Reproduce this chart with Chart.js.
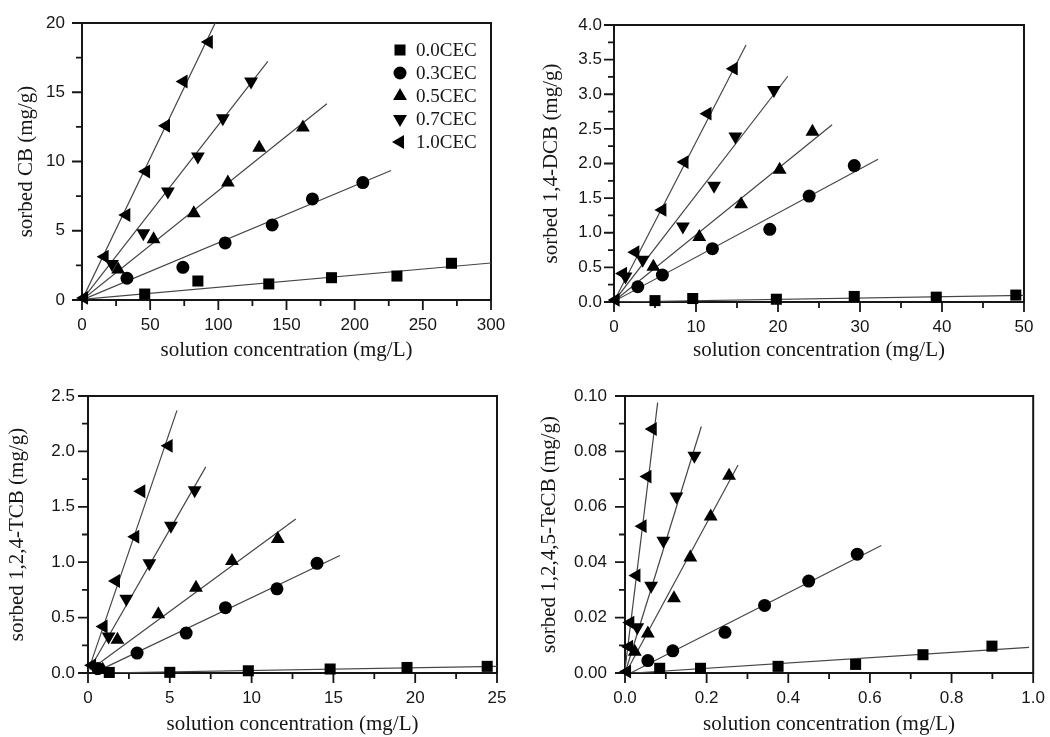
<!DOCTYPE html>
<html>
<head>
<meta charset="utf-8">
<title>Sorbed chlorobenzenes vs. solution concentration</title>
<script src="https://cdn.jsdelivr.net/npm/chart.js@4.4.1/dist/chart.umd.min.js"></script>
<style>
    html, body { margin: 0; padding: 0; background: #fff; }
    #board { position: relative; width: 1050px; height: 737px; overflow: hidden; }
    #board canvas { position: absolute; }
</style>
</head>
<body>
<div id="board">
    <canvas id="cbChart" width="525" height="368" style="left:0;top:0"></canvas>
    <canvas id="dcbChart" width="525" height="368" style="left:525px;top:0"></canvas>
    <canvas id="tcbChart" width="525" height="369" style="left:0;top:368px"></canvas>
    <canvas id="tecbChart" width="525" height="369" style="left:525px;top:368px"></canvas>
</div>
<script>
// surfactant loading of the clay, one series per loading
var seriesLabels = ['0.0CEC', '0.3CEC', '0.5CEC', '0.7CEC', '1.0CEC'];

// CB: [solution mg/L, sorbed mg/g]
var cbPoints = [
    [[46, 0.43], [85, 1.37], [137, 1.16], [183, 1.61], [231, 1.73], [271, 2.65]],
    [[33, 1.57], [74, 2.36], [105, 4.12], [139.5, 5.42], [169, 7.30], [206, 8.48]],
    [[26.5, 2.2], [52.5, 4.39], [82, 6.27], [107, 8.48], [130, 11.0], [162, 12.46]],
    [[22, 2.6], [45, 4.82], [63, 7.83], [85, 10.36], [103.3, 13.13], [124, 15.78]],
    [[1.5, 0.15], [16.6, 3.13], [32.5, 6.14], [47, 9.28], [61.6, 12.58], [74.5, 15.78], [93, 18.63]]
];
var cbFits = [
    [[0, 0.05], [300, 2.67]],
    [[0, 0], [226.7, 9.35]],
    [[0, 0], [179.6, 14.17]],
    [[0, 0], [136.3, 17.23]],
    [[0, 0], [97.7, 20]]
];
var cbXTicks = [0, 50, 100, 150, 200, 250, 300];
var cbYTicks = [0, 5, 10, 15, 20];

// 1,4-DCB
var dcbPoints = [
    [[5.0, 0.02], [9.6, 0.05], [19.8, 0.04], [29.3, 0.08], [39.3, 0.07], [49.0, 0.10]],
    [[2.9, 0.22], [5.9, 0.39], [12.0, 0.77], [19.0, 1.05], [23.8, 1.53], [29.3, 1.97]],
    [[4.8, 0.51], [10.4, 0.94], [15.5, 1.41], [20.2, 1.91], [24.2, 2.46]],
    [[1.4, 0.37], [3.5, 0.61], [8.4, 1.09], [12.2, 1.68], [14.8, 2.39], [19.5, 3.06]],
    [[0.2, 0.03], [1.1, 0.41], [2.6, 0.72], [5.9, 1.33], [8.6, 2.02], [11.4, 2.72], [14.6, 3.37]]
];
var dcbFits = [
    [[0, 0], [50, 0.096]],
    [[0, 0.01], [32.2, 2.06]],
    [[0, 0.01], [26.6, 2.56]],
    [[0, 0.01], [21.2, 3.26]],
    [[0, 0.01], [16.1, 3.71]]
];
var dcbXTicks = [0, 10, 20, 30, 40, 50];
var dcbYTicks = [0, 0.5, 1.0, 1.5, 2.0, 2.5, 3.0, 3.5, 4.0];

// 1,2,4-TCB
var tcbPoints = [
    [[1.3, 0.005], [5.0, 0.006], [9.8, 0.02], [14.8, 0.036], [19.5, 0.05], [24.4, 0.06]],
    [[0.6, 0.04], [3.0, 0.18], [6.0, 0.36], [8.4, 0.59], [11.55, 0.76], [14.0, 0.99]],
    [[0.9, 0.03], [1.8, 0.30], [4.3, 0.53], [6.6, 0.77], [8.8, 1.01], [11.6, 1.21]],
    [[0.5, 0.05], [1.26, 0.33], [2.34, 0.67], [3.75, 0.99], [5.07, 1.33], [6.52, 1.65]],
    [[0.25, 0.07], [0.95, 0.42], [1.71, 0.83], [2.89, 1.23], [3.26, 1.64], [4.93, 2.05]]
];
var tcbFits = [
    [[0.75, 0], [25, 0.06]],
    [[0.55, 0.015], [15.4, 1.06]],
    [[0.14, 0.03], [12.7, 1.39]],
    [[0.14, 0.045], [7.2, 1.86]],
    [[0.04, 0.03], [5.44, 2.37]]
];
var tcbXTicks = [0, 5, 10, 15, 20, 25];
var tcbYTicks = [0, 0.5, 1.0, 1.5, 2.0, 2.5];

// 1,2,4,5-TeCB
var tecbPoints = [
    [[0.085, 0.0017], [0.185, 0.0017], [0.375, 0.0024], [0.565, 0.0031], [0.73, 0.0066], [0.899, 0.0097]],
    [[0.056, 0.0045], [0.117, 0.008], [0.245, 0.0147], [0.342, 0.0244], [0.45, 0.0332], [0.569, 0.0429]],
    [[0.024, 0.0077], [0.056, 0.0143], [0.12, 0.027], [0.16, 0.0417], [0.21, 0.0565], [0.255, 0.0712]],
    [[0.03, 0.0165], [0.064, 0.0315], [0.094, 0.0477], [0.126, 0.0637], [0.17, 0.0784]],
    [[0.005, 0.0005], [0.01, 0.0095], [0.013, 0.0182], [0.028, 0.0352], [0.043, 0.053], [0.055, 0.0709], [0.068, 0.0881]]
];
var tecbFits = [
    [[0.02, 0], [0.99, 0.00925]],
    [[0.016, 0.0002], [0.628, 0.046]],
    [[0.004, 0.0006], [0.277, 0.0751]],
    [[0.004, 0.0018], [0.187, 0.089]],
    [[0, 0.0012], [0.08, 0.0976]]
];
var tecbXTicks = [0, 0.2, 0.4, 0.6, 0.8, 1.0];
var tecbYTicks = [0, 0.02, 0.04, 0.06, 0.08, 0.10];

(function (window, document) {
    'use strict';

    var Isotherms = function () {
        var _this = this;
        this.options = {
            ink: '#161616',
            fitColor: '#454545',
            majorTick: 10,
            minorTick: 6,
            markers: [
                { pointStyle: 'rect', rotation: 0, radius: 7.8 },
                { pointStyle: 'circle', rotation: 0, radius: 6.5 },
                { pointStyle: 'triangle', rotation: 0, radius: 8 },
                { pointStyle: 'triangle', rotation: 180, radius: 8 },
                { pointStyle: 'triangle', rotation: 270, radius: 8 }
            ],
            fonts: {
                ticks: { family: '"Liberation Sans", Arial, sans-serif', size: 17 },
                title: { family: '"Liberation Serif", "Times New Roman", serif', size: 21 },
                legend: '19px "Liberation Serif", "Times New Roman", serif'
            },
            charts: {}
        };

        // box frame plus outward major/minor ticks on the bottom and left axes
        this.framePlugin = {
            id: 'originFrame',
            beforeDatasetsDraw: function (chart) {
                var ctx = chart.ctx;
                var a = chart.chartArea;
                var xs = chart.scales.x;
                var ys = chart.scales.y;

                ctx.save();
                ctx.strokeStyle = _this.options.ink;
                ctx.lineWidth = 2;
                ctx.strokeRect(a.left, a.top, a.right - a.left, a.bottom - a.top);

                ctx.lineWidth = 1.8;
                ctx.beginPath();
                _this.tickMarks(xs).forEach(function (t) {
                    var px = xs.getPixelForValue(t.value);
                    ctx.moveTo(px, a.bottom);
                    ctx.lineTo(px, a.bottom + t.len);
                });
                _this.tickMarks(ys).forEach(function (t) {
                    var py = ys.getPixelForValue(t.value);
                    ctx.moveTo(a.left, py);
                    ctx.lineTo(a.left - t.len, py);
                });
                ctx.stroke();
                ctx.restore();
            }
        };

        // legend drawn inside the plot, top right
        this.legendPlugin = {
            id: 'insetLegend',
            afterDraw: function (chart, args, opts) {
                if (!opts || !opts.show) return;
                var ctx = chart.ctx;
                var a = chart.chartArea;
                var rows = chart.data.datasets.filter(function (d) { return !d.isFit; });

                ctx.save();
                ctx.font = _this.options.fonts.legend;
                ctx.textBaseline = 'middle';
                ctx.textAlign = 'left';
                rows.forEach(function (d, i) {
                    var x = a.right - opts.fromRight;
                    var y = a.top + opts.fromTop + i * opts.gap;
                    ctx.fillStyle = '#000';
                    Chart.helpers.drawPoint(ctx, {
                        pointStyle: d.pointStyle,
                        rotation: d.rotation,
                        radius: d.pointRadius,
                        borderWidth: 0
                    }, x, y);
                    ctx.fillStyle = _this.options.ink;
                    ctx.fillText(d.label, x + 16, y + 1);
                });
                ctx.restore();
            }
        };

        this.tickMarks = function (scale) {
            var marks = [];
            var values = scale.ticks.map(function (t) { return t.value; });
            values.forEach(function (v, i) {
                marks.push({ value: v, len: _this.options.majorTick });
                if (i < values.length - 1) {
                    marks.push({ value: (v + values[i + 1]) / 2, len: _this.options.minorTick });
                }
            });
            return marks;
        };

        this.scale = function (axis, p) {
            var horizontal = axis === 'x';
            var values = horizontal ? p.xTicks : p.yTicks;
            var digits = horizontal ? p.xDigits : p.yDigits;

            return {
                type: 'linear',
                position: horizontal ? 'bottom' : 'left',
                min: values[0],
                max: values[values.length - 1],
                afterBuildTicks: function (scale) {
                    scale.ticks = values.map(function (v) { return { value: v }; });
                },
                afterFit: function (scale) {
                    if (horizontal) {
                        scale.height = p.box.xHeight;
                    } else {
                        scale.width = p.box.yWidth;
                    }
                },
                grid: { display: false, drawTicks: true, tickLength: _this.options.majorTick },
                border: { display: false },
                ticks: {
                    autoSkip: false,
                    maxRotation: 0,
                    minRotation: 0,
                    padding: horizontal ? 5 : p.box.yLabelGap,
                    color: _this.options.ink,
                    font: _this.options.fonts.ticks,
                    callback: function (v) {
                        return Number(v).toFixed(digits);
                    }
                },
                title: {
                    display: true,
                    text: horizontal ? 'solution concentration (mg/L)' : p.yTitle,
                    color: _this.options.ink,
                    font: _this.options.fonts.title,
                    padding: horizontal ? { top: 0, bottom: p.box.xTitlePad } : { top: p.box.yTitlePad, bottom: 0 }
                }
            };
        };

        this.datasets = function (points, fits) {
            var marks = points.map(function (series, i) {
                var m = _this.options.markers[i];
                return {
                    label: seriesLabels[i],
                    data: series.map(function (p) { return { x: p[0], y: p[1] }; }),
                    pointStyle: m.pointStyle,
                    rotation: m.rotation,
                    pointRadius: m.radius,
                    pointHoverRadius: m.radius,
                    backgroundColor: '#000',
                    borderColor: '#000',
                    borderWidth: 0,
                    showLine: false,
                    clip: false
                };
            });
            var lines = fits.map(function (seg) {
                return {
                    isFit: true,
                    data: seg.map(function (p) { return { x: p[0], y: p[1] }; }),
                    showLine: true,
                    pointRadius: 0,
                    borderColor: _this.options.fitColor,
                    borderWidth: 1.2,
                    fill: false
                };
            });
            // markers first so they are painted over the fitted lines
            return marks.concat(lines);
        };

        this.buildPanel = function (canvasId, p) {
            var ctx = document.getElementById(canvasId).getContext('2d');

            _this.options.charts[canvasId] = new Chart(ctx, {
                type: 'scatter',
                data: { datasets: _this.datasets(p.points, p.fits) },
                options: {
                    responsive: false,
                    animation: false,
                    devicePixelRatio: 1,
                    events: [],
                    layout: {
                        padding: { left: 0, right: p.box.right, top: p.box.top, bottom: 0 }
                    },
                    scales: {
                        x: _this.scale('x', p),
                        y: _this.scale('y', p)
                    },
                    plugins: {
                        legend: { display: false },
                        tooltip: { enabled: false },
                        insetLegend: p.legend || { show: false }
                    }
                },
                plugins: [_this.framePlugin, _this.legendPlugin]
            });
        };

        this.run = function () {
            _this.buildPanel('cbChart', {
                points: cbPoints, fits: cbFits,
                xTicks: cbXTicks, yTicks: cbYTicks, xDigits: 0, yDigits: 0,
                yTitle: 'sorbed CB (mg/g)',
                box: { yWidth: 82, xHeight: 68, top: 23, right: 34, yLabelGap: 7, yTitlePad: 14, xTitlePad: 5 },
                legend: { show: true, fromRight: 91, fromTop: 27, gap: 23 }
            });

            _this.buildPanel('dcbChart', {
                points: dcbPoints, fits: dcbFits,
                xTicks: dcbXTicks, yTicks: dcbYTicks, xDigits: 0, yDigits: 1,
                yTitle: 'sorbed 1,4-DCB (mg/g)',
                box: { yWidth: 89, xHeight: 66, top: 25, right: 26, yLabelGap: 2, yTitlePad: 14, xTitlePad: 5 }
            });

            _this.buildPanel('tcbChart', {
                points: tcbPoints, fits: tcbFits,
                xTicks: tcbXTicks, yTicks: tcbYTicks, xDigits: 0, yDigits: 1,
                yTitle: 'sorbed 1,2,4-TCB (mg/g)',
                box: { yWidth: 88, xHeight: 64, top: 28, right: 28, yLabelGap: 3, yTitlePad: 5, xTitlePad: 0 }
            });

            _this.buildPanel('tecbChart', {
                points: tecbPoints, fits: tecbFits,
                xTicks: tecbXTicks, yTicks: tecbYTicks, xDigits: 1, yDigits: 2,
                yTitle: 'sorbed 1,2,4,5-TeCB (mg/g)',
                box: { yWidth: 100, xHeight: 64, top: 28, right: 16, yLabelGap: 8, yTitlePad: 12, xTitlePad: 0 }
            });
        };
    };

    window.isotherms = new Isotherms();
    window.isotherms.run();

})(window, document);
</script>
</body>
</html>
